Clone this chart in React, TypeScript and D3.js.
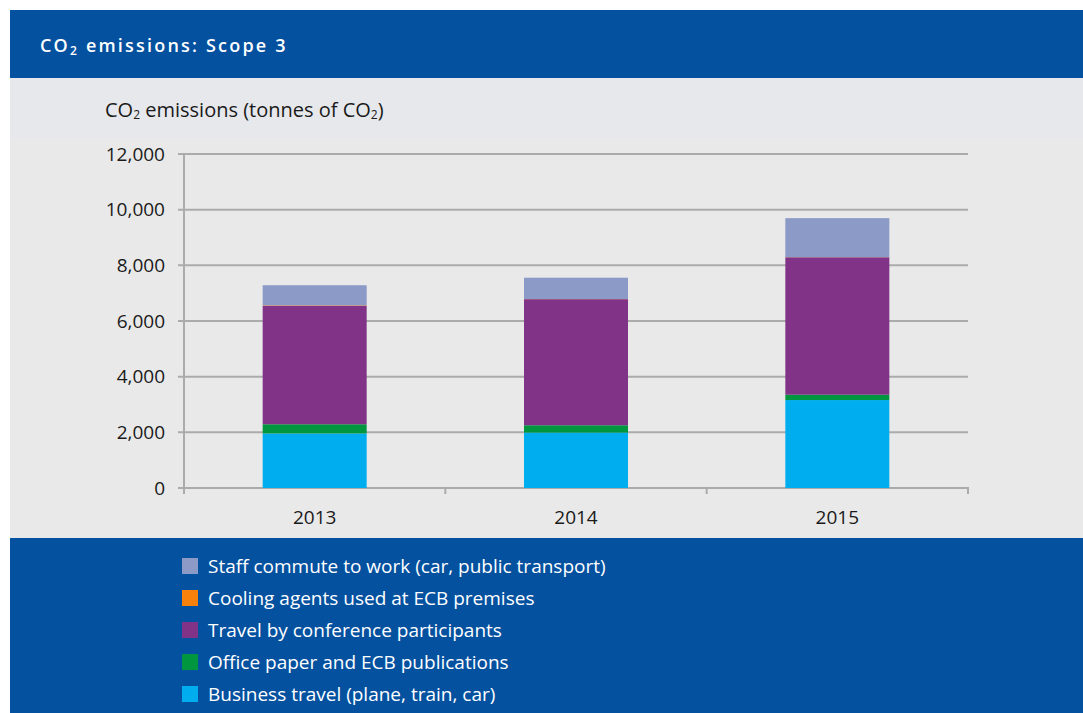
import React, { useRef, useEffect } from 'react';
import * as d3 from 'd3';

// Data (tonnes of CO2)
const years = ['2013', '2014', '2015'];
const seriesNames = [
  'Business travel (plane, train, car)',
  'Office paper and ECB publications',
  'Travel by conference participants',
  'Cooling agents used at ECB premises',
  'Staff commute to work (car, public transport)',
];
const businessTravel = [1960, 1990, 3160];
const officePaper = [330, 265, 190];
const conferenceTravel = [4260, 4530, 4940];
const coolingAgents = [15, 5, 5];
const staffCommute = [720, 765, 1400];
const yTicks = [0, 2000, 4000, 6000, 8000, 10000, 12000];

const colors = ['#00aeef', '#009640', '#813487', '#f7810b', '#8b9ac7'];

const FONT = '"Open Sans", "Noto Sans", sans-serif';

function App() {
  const svgRef = useRef<SVGSVGElement>(null);

  useEffect(() => {
    const width = 1083;
    const height = 713;
    const svg = d3.select(svgRef.current);
    svg.selectAll('*').remove();

    // Backgrounds
    svg.append('rect').attr('x', 0).attr('y', 0).attr('width', width).attr('height', height).attr('fill', '#ffffff');
    svg.append('rect').attr('x', 10).attr('y', 78).attr('width', width - 10).attr('height', 460).attr('fill', '#e9e9e9');
    svg.append('rect').attr('x', 10).attr('y', 78).attr('width', width - 10).attr('height', 60).attr('fill', '#e6e8ec');
    svg.append('rect').attr('x', 10).attr('y', 10).attr('width', width - 10).attr('height', 68).attr('fill', '#04519f');
    svg.append('rect').attr('x', 10).attr('y', 538).attr('width', width - 10).attr('height', height - 538).attr('fill', '#04519f');

    // Title
    const title = svg.append('text')
      .attr('x', 40).attr('y', 52)
      .attr('fill', '#ffffff')
      .attr('font-family', FONT)
      .attr('font-weight', 600)
      .attr('font-size', 18)
      .attr('letter-spacing', 2.2);
    title.append('tspan').text('CO');
    title.append('tspan').attr('font-size', 12).attr('dy', 3).text('2');
    title.append('tspan').attr('dy', -3).text(' emissions: Scope 3');

    // Y axis label
    const ylab = svg.append('text')
      .attr('x', 105).attr('y', 117)
      .attr('fill', '#1a1a1a')
      .attr('font-family', FONT)
      .attr('font-size', 20);
    ylab.append('tspan').text('CO');
    ylab.append('tspan').attr('font-size', 12).attr('dy', 2).text('2');
    ylab.append('tspan').attr('dy', -2).text(' emissions (tonnes of CO');
    ylab.append('tspan').attr('font-size', 12).attr('dy', 2).text('2');
    ylab.append('tspan').attr('dy', -2).text(')');

    // Scales
    const x = d3.scaleBand().domain(years).range([184, 968]).paddingInner(0).paddingOuter(0);
    const y = d3.scaleLinear().domain([0, 12000]).range([488, 154]);
    const barWidth = 104;

    const grid = '#ababab';

    // Gridlines + y ticks
    svg.append('g')
      .selectAll('line')
      .data(yTicks)
      .enter()
      .append('line')
      .attr('x1', 178).attr('x2', 968)
      .attr('y1', d => y(d)).attr('y2', d => y(d))
      .attr('stroke', grid).attr('stroke-width', 2);

    svg.append('g')
      .selectAll('text')
      .data(yTicks)
      .enter()
      .append('text')
      .attr('x', 165)
      .attr('y', d => y(d))
      .attr('dy', '0.35em')
      .attr('text-anchor', 'end')
      .attr('fill', '#1a1a1a')
      .attr('font-family', FONT)
      .attr('font-size', 19)
      .text(d => d3.format(',')(d));

    // Y axis line
    svg.append('line')
      .attr('x1', 184).attr('x2', 184)
      .attr('y1', y(12000)).attr('y2', 494)
      .attr('stroke', grid).attr('stroke-width', 2);

    // Stacked bars
    const table = years.map((yr, i) => ({
      year: yr,
      s0: businessTravel[i],
      s1: officePaper[i],
      s2: conferenceTravel[i],
      s3: coolingAgents[i],
      s4: staffCommute[i],
    }));
    const stack = d3.stack<any>().keys(['s0', 's1', 's2', 's3', 's4']);
    const layers = stack(table);

    svg.append('g')
      .selectAll('g')
      .data(layers)
      .enter()
      .append('g')
      .attr('fill', (d, i) => colors[i])
      .selectAll('rect')
      .data(d => d)
      .enter()
      .append('rect')
      .attr('x', d => (x(d.data.year) as number) + x.bandwidth() / 2 - barWidth / 2)
      .attr('y', d => y(d[1]))
      .attr('width', barWidth)
      .attr('height', d => y(d[0]) - y(d[1]));

    // X axis ticks at category boundaries
    const bounds = years.map(yr => x(yr) as number).concat([968]);
    svg.append('g')
      .selectAll('line')
      .data(bounds.slice(1))
      .enter()
      .append('line')
      .attr('x1', d => d).attr('x2', d => d)
      .attr('y1', 487).attr('y2', 494)
      .attr('stroke', grid).attr('stroke-width', 2);

    svg.append('g')
      .selectAll('text')
      .data(years)
      .enter()
      .append('text')
      .attr('x', d => (x(d) as number) + x.bandwidth() / 2)
      .attr('y', 524)
      .attr('text-anchor', 'middle')
      .attr('fill', '#1a1a1a')
      .attr('font-family', FONT)
      .attr('font-size', 19)
      .text(d => d);

    // Legend (top to bottom is reverse stack order)
    const legendOrder = [4, 3, 2, 1, 0];
    const legend = svg.append('g')
      .selectAll('g')
      .data(legendOrder)
      .enter()
      .append('g')
      .attr('transform', (d, i) => `translate(182, ${558 + i * 32})`);
    legend.append('rect')
      .attr('width', 16).attr('height', 16)
      .attr('fill', d => colors[d]);
    legend.append('text')
      .attr('x', 26).attr('y', 8)
      .attr('dy', '0.35em')
      .attr('fill', '#ffffff')
      .attr('font-family', FONT)
      .attr('font-size', 19)
      .text(d => seriesNames[d]);
  }, []);

  return (
    <svg
      ref={svgRef}
      width={1083}
      height={713}
      style={{ position: 'absolute', left: 0, top: 0 }}
    ></svg>
  );
}

export default App;
